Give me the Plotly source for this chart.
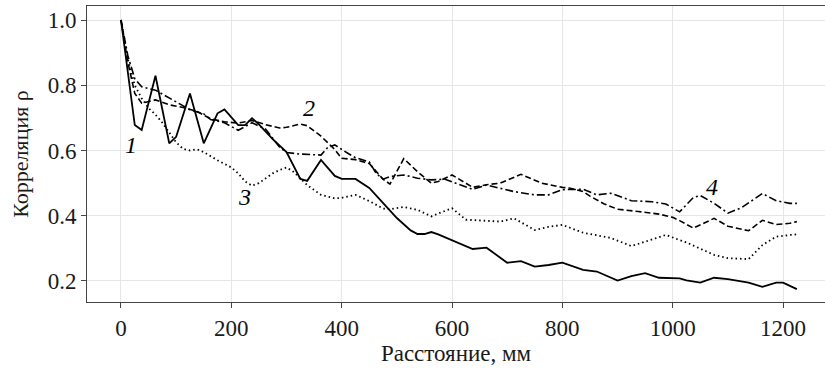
import plotly.graph_objects as go

# Series 1 (solid)
x1 = [0, 25, 37.5, 62.5, 87.5, 100, 125, 150, 175, 187.5, 212.5, 225, 237.5, 250, 275, 300,
      325, 337.5, 362.5, 387.5, 400, 425, 450, 475, 500, 525, 537.5, 550, 562.5, 575, 600,
      637.5, 662.5, 700, 725, 750, 775, 800, 837.5, 862.5, 900, 925, 950, 975, 1012.5, 1025,
      1050, 1075, 1100, 1137.5, 1162.5, 1187.5, 1200, 1212.5, 1225]
y1 = [1.0, 0.678, 0.663, 0.829, 0.622, 0.642, 0.775, 0.622, 0.714, 0.726, 0.678, 0.678, 0.699, 0.68, 0.635, 0.595,
      0.513, 0.507, 0.571, 0.522, 0.513, 0.513, 0.485, 0.44, 0.393, 0.355, 0.344, 0.344, 0.35, 0.343, 0.325,
      0.298, 0.302, 0.256, 0.261, 0.244, 0.249, 0.256, 0.234, 0.229, 0.201, 0.215, 0.224, 0.21, 0.208, 0.202,
      0.195, 0.21, 0.206, 0.195, 0.182, 0.195, 0.195, 0.185, 0.175]

# Series 2 (dashed)
x2 = [0, 12.5, 25, 37.5, 62.5, 87.5, 112.5, 137.5, 162.5, 187.5, 212.5, 237.5, 262.5, 287.5, 300,
      325, 337.5, 362.5, 387.5, 400, 425, 450, 475, 487.5, 512.5, 537.5, 562.5, 575, 600,
      637.5, 662.5, 687.5, 725, 762.5, 800, 812.5, 837.5, 850, 875, 900, 937.5, 975, 1000, 1012.5,
      1037.5, 1075, 1100, 1137.5, 1162.5, 1187.5, 1212.5, 1225]
y2 = [1.0, 0.87, 0.775, 0.745, 0.755, 0.74, 0.732, 0.72, 0.697, 0.688, 0.684, 0.692, 0.679, 0.669, 0.671,
      0.681, 0.676, 0.644, 0.603, 0.576, 0.572, 0.56, 0.512, 0.497, 0.575, 0.535, 0.50, 0.505, 0.525,
      0.487, 0.495, 0.50, 0.527, 0.50, 0.487, 0.485, 0.474, 0.46, 0.437, 0.42, 0.413, 0.405, 0.395, 0.385,
      0.362, 0.392, 0.368, 0.354, 0.386, 0.373, 0.377, 0.382]

# Series 3 (dotted)
x3 = [0, 12.5, 25, 37.5, 50, 62.5, 75, 87.5, 100, 112.5, 125, 137.5, 150, 175, 200, 212.5, 225, 237.5,
      250, 262.5, 275, 287.5, 300, 312.5, 325, 337.5, 362.5, 387.5, 400, 425, 450, 475, 487.5, 512.5,
      537.5, 562.5, 575, 600, 625, 687.5, 712.5, 750, 775, 800, 837.5, 862.5, 887.5, 925, 962.5, 987.5,
      1025, 1075, 1100, 1137.5, 1162.5, 1187.5, 1212.5, 1225]
y3 = [1.0, 0.88, 0.80, 0.76, 0.73, 0.71, 0.685, 0.655, 0.625, 0.605, 0.60, 0.604, 0.595, 0.57, 0.548, 0.53, 0.505, 0.492,
      0.50, 0.515, 0.53, 0.54, 0.548, 0.535, 0.515, 0.494, 0.464, 0.453, 0.455, 0.464, 0.445, 0.422, 0.42, 0.427,
      0.418, 0.398, 0.407, 0.423, 0.388, 0.382, 0.392, 0.356, 0.366, 0.372, 0.348, 0.341, 0.332, 0.307, 0.328, 0.341,
      0.318, 0.28, 0.27, 0.267, 0.31, 0.336, 0.341, 0.343]

# Series 4 (dash-dot)
x4 = [0, 12.5, 25, 37.5, 62.5, 87.5, 100, 125, 150, 162.5, 187.5, 212.5, 237.5, 262.5, 287.5, 300,
      325, 362.5, 375, 387.5, 412.5, 425, 450, 462.5, 475, 487.5, 512.5, 537.5, 562.5, 587.5,
      637.5, 662.5, 712.5, 750, 775, 800, 837.5, 862.5, 887.5, 925, 962.5, 987.5, 1012.5, 1037.5,
      1050, 1075, 1100, 1125, 1162.5, 1187.5, 1212.5, 1225]
y4 = [1.0, 0.89, 0.82, 0.795, 0.785, 0.76, 0.748, 0.725, 0.712, 0.695, 0.685, 0.662, 0.685, 0.665, 0.61, 0.594,
      0.589, 0.586, 0.61, 0.617, 0.59, 0.578, 0.565, 0.53, 0.512, 0.52, 0.525, 0.515, 0.51, 0.512,
      0.481, 0.494, 0.474, 0.464, 0.464, 0.48, 0.481, 0.464, 0.469, 0.446, 0.443, 0.436, 0.412, 0.456,
      0.462, 0.438, 0.408, 0.425, 0.468, 0.446, 0.438, 0.438]

x_ticks = [0, 200, 400, 600, 800, 1000, 1200]
y_ticks = [0.2, 0.4, 0.6, 0.8, 1.0]

labels = ["1", "2", "3", "4"]
label_x = [19, 341, 223, 1072]
label_y = [0.617, 0.729, 0.458, 0.489]

FONT = "Liberation Serif, Times New Roman, serif"

fig = go.Figure()
styles = [("solid", 1.8), ("6px,3px", 1.6), ("1.5px,3px", 1.8), ("8px,3px,2px,3px", 1.6)]
for (xs, ys), (dash, w) in zip([(x1, y1), (x2, y2), (x3, y3), (x4, y4)], styles):
    fig.add_trace(go.Scatter(x=xs, y=ys, mode="lines",
                             line=dict(color="black", width=w, dash=dash),
                             showlegend=False, hoverinfo="skip"))

for t, lx, ly in zip(labels, label_x, label_y):
    fig.add_annotation(x=lx, y=ly, text=f"<i>{t}</i>", showarrow=False,
                       font=dict(family=FONT, size=24, color="black"))

fig.update_layout(
    width=825, height=370,
    margin=dict(l=87, r=0, t=6, b=68),
    paper_bgcolor="white", plot_bgcolor="white",
    font=dict(family=FONT, size=23, color="#1a1a1a"),
    xaxis=dict(range=[-61.6, 1276], tickvals=x_ticks, ticks="outside", ticklen=5,
               tickcolor="#444", showline=True, linecolor="#444", linewidth=1, mirror=True,
               showgrid=True, gridcolor="#e6e6e6", gridwidth=1, zeroline=False,
               tickfont=dict(size=23),
               title=dict(text="Расстояние, мм", font=dict(size=23), standoff=2),
               automargin=False),
    yaxis=dict(range=[0.1356, 1.0429], tickvals=y_ticks, tickformat=".1f", ticks="outside",
               ticklen=5, tickcolor="#444", showline=True, linecolor="#444", linewidth=1,
               showgrid=True, gridcolor="#e6e6e6", gridwidth=1, zeroline=False,
               tickfont=dict(size=23),
               title=dict(text="Корреляция ρ", font=dict(size=22), standoff=12),
               automargin=False),
)

fig.write_html("out.html")
